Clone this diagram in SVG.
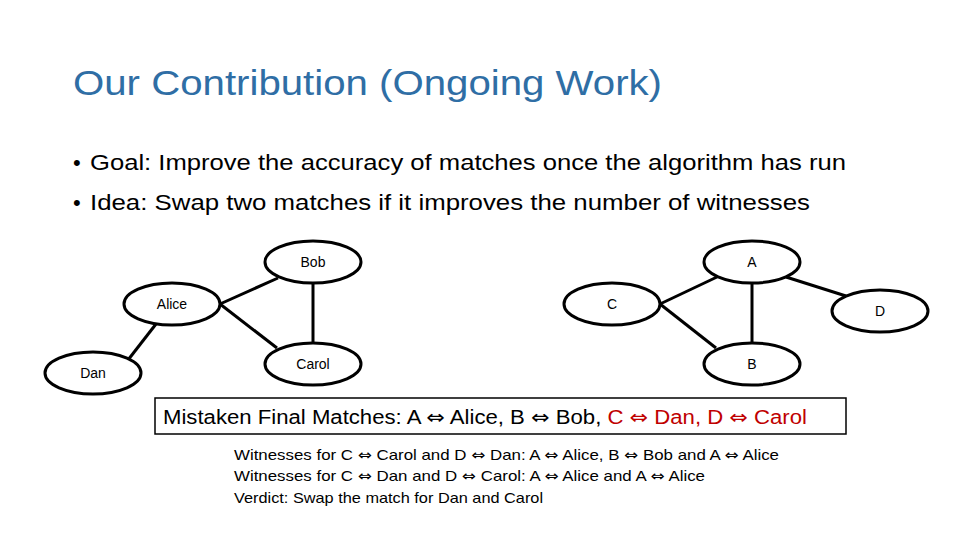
<svg xmlns="http://www.w3.org/2000/svg" width="960" height="540" viewBox="0 0 960 540">
<style>
text{font-family:"Liberation Sans","Open Sans",sans-serif;}
.n ellipse{fill:#fff;stroke:#000;stroke-width:3;}
.n text{font-size:14px;text-anchor:middle;}
.e line{stroke:#000;stroke-width:3;}
.ar{font-family:"DejaVu Sans",sans-serif;}
</style>
<rect width="960" height="540" fill="#fff"/>
<text x="73" y="95" font-size="35" fill="#2f6ea5" textLength="589" lengthAdjust="spacingAndGlyphs">Our Contribution (Ongoing Work)</text>
<text x="73" y="170" font-size="22" fill="#000">•</text>
<text x="90" y="170" font-size="22" fill="#000" textLength="756" lengthAdjust="spacingAndGlyphs">Goal: Improve the accuracy of matches once the algorithm has run</text>
<text x="73" y="210" font-size="22" fill="#000">•</text>
<text x="90" y="210" font-size="22" fill="#000" textLength="720" lengthAdjust="spacingAndGlyphs">Idea: Swap two matches if it improves the number of witnesses</text>
<g class="e">
<line x1="220" y1="304" x2="278" y2="278"/>
<line x1="220" y1="304" x2="277" y2="348"/>
<line x1="313" y1="284" x2="313" y2="343"/>
<line x1="156" y1="324" x2="128" y2="360"/>
<line x1="660" y1="304" x2="717" y2="277"/>
<line x1="660" y1="304" x2="716" y2="348"/>
<line x1="752" y1="283" x2="752" y2="343"/>
<line x1="786" y1="277" x2="846" y2="296"/>
</g>
<g id="bob" class="n"><ellipse cx="313" cy="262" rx="48" ry="21"/><text x="313" y="267">Bob</text></g>
<g id="alice" class="n"><ellipse cx="172" cy="304" rx="48" ry="21"/><text x="172" y="309">Alice</text></g>
<g id="dan" class="n"><ellipse cx="93" cy="373" rx="48" ry="21"/><text x="93" y="378">Dan</text></g>
<g id="carol" class="n"><ellipse cx="313" cy="364" rx="48" ry="21"/><text x="313" y="369">Carol</text></g>
<g id="a" class="n"><ellipse cx="752" cy="262" rx="48" ry="21"/><text x="752" y="267">A</text></g>
<g id="c" class="n"><ellipse cx="612" cy="304" rx="48" ry="21"/><text x="612" y="309">C</text></g>
<g id="d" class="n"><ellipse cx="880" cy="311" rx="48" ry="21"/><text x="880" y="316">D</text></g>
<g id="b" class="n"><ellipse cx="752" cy="364" rx="48" ry="21"/><text x="752" y="369">B</text></g>
<rect x="155" y="398" width="691" height="36" fill="#fff" stroke="#000" stroke-width="1.5"/>
<text x="163" y="424" font-size="20" textLength="644" lengthAdjust="spacingAndGlyphs">Mistaken Final Matches: A <tspan class="ar">⇔</tspan> Alice, B <tspan class="ar">⇔</tspan> Bob, <tspan fill="#c00000">C <tspan class="ar">⇔</tspan> Dan, D <tspan class="ar">⇔</tspan> Carol</tspan></text>
<text x="234" y="460" font-size="15" textLength="545" lengthAdjust="spacingAndGlyphs">Witnesses for C <tspan class="ar">⇔</tspan> Carol and D <tspan class="ar">⇔</tspan> Dan: A <tspan class="ar">⇔</tspan> Alice, B <tspan class="ar">⇔</tspan> Bob and A <tspan class="ar">⇔</tspan> Alice</text>
<text x="234" y="481" font-size="15" textLength="471" lengthAdjust="spacingAndGlyphs">Witnesses for C <tspan class="ar">⇔</tspan> Dan and D <tspan class="ar">⇔</tspan> Carol: A <tspan class="ar">⇔</tspan> Alice and A <tspan class="ar">⇔</tspan> Alice</text>
<text x="234" y="503" font-size="15" textLength="309" lengthAdjust="spacingAndGlyphs">Verdict: Swap the match for Dan and Carol</text>
</svg>
